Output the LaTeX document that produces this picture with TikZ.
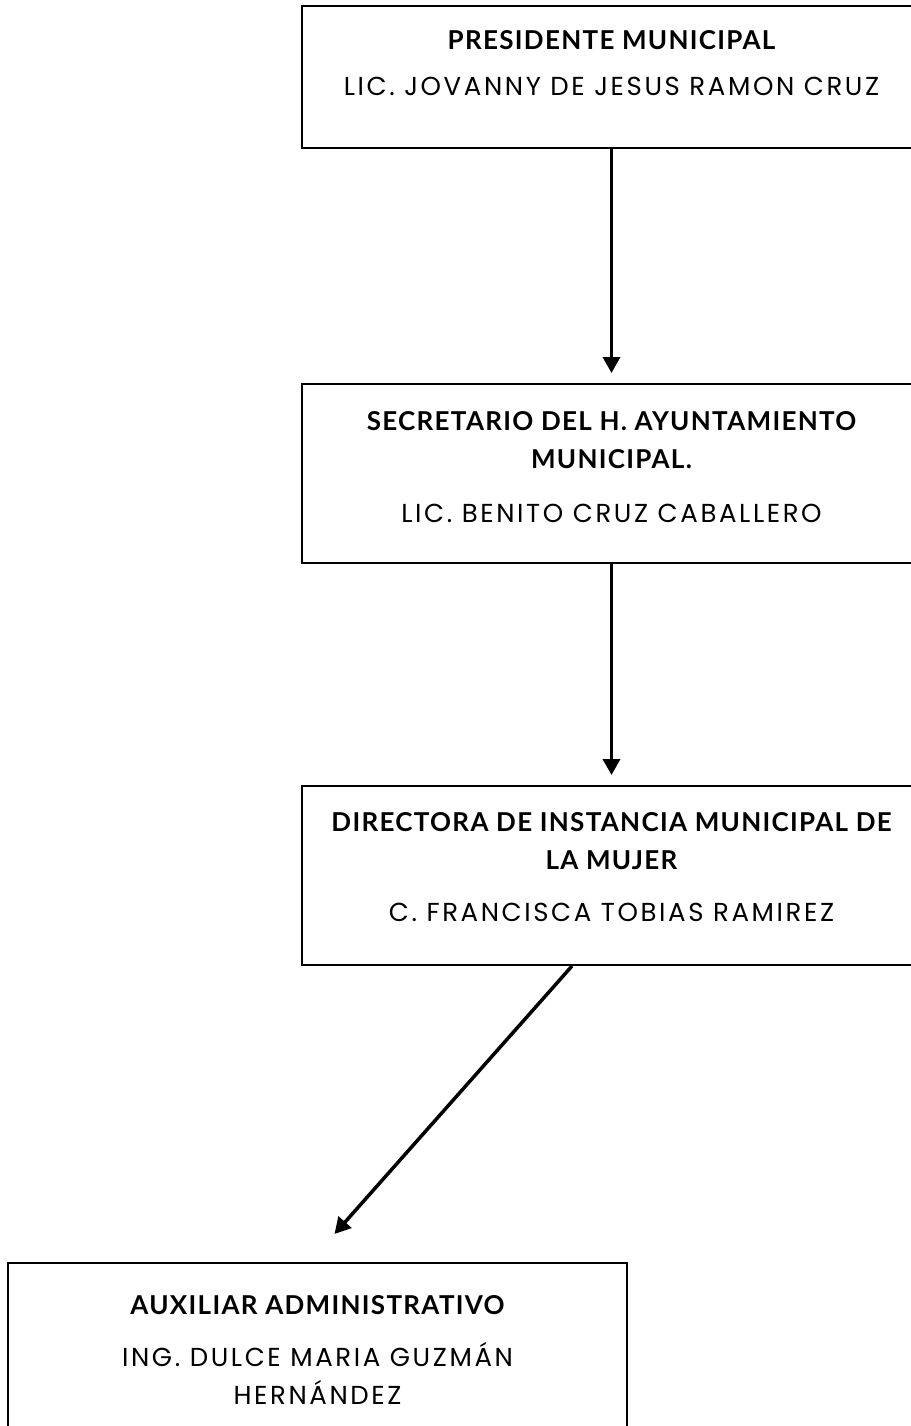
\documentclass[tikz,border=0pt]{standalone}
\usepackage{fontspec}
\usetikzlibrary{positioning}
\usetikzlibrary{arrows.meta}
\newfontfamily\titlefont{Lato}[LetterSpace=5]
\newfontfamily\namefont{Poppins}[LetterSpace=10]
\newcommand{\TIT}{\titlefont\bfseries\fontsize{13}{19}\selectfont}
\newcommand{\NOM}{\namefont\mdseries\fontsize{13}{19}\selectfont}

\begin{document}
\begin{tikzpicture}[x=0.5pt, y=-0.5pt,
    ORG/.style={rectangle, draw=black, line width=1pt, inner sep=0pt, anchor=north}]

    \useasboundingbox (0,0) rectangle (911,1426);
    \clip (0,0) rectangle (911,1426);

            \node[ORG] (B1) at (611.5,5)
                {\parbox[t][71pt][t]{309.5pt}{\centering\rule{0pt}{21.9pt}%
                 \TIT PRESIDENTE MUNICIPAL\\[3.6pt]
                 \NOM LIC. JOVANNY DE JESUS RAMON CRUZ}};

            \node[ORG, below=117pt of B1] (B2)
                {\parbox[t][89.5pt][t]{309.5pt}{\centering\rule{0pt}{23pt}%
                 \TIT SECRETARIO DEL H. AYUNTAMIENTO\\
                 MUNICIPAL.\\[8pt]
                 \NOM LIC. BENITO CRUZ CABALLERO}};

            \node[ORG, below=110.5pt of B2] (B3)
                {\parbox[t][89.5pt][t]{309.5pt}{\centering\rule{0pt}{22.6pt}%
                 \TIT DIRECTORA DE INSTANCIA MUNICIPAL DE\\
                 LA MUJER\\[7pt]
                 \NOM C. FRANCISCA TOBIAS RAMIREZ}};

            \node[ORG, below=148pt of B3, xshift=-147pt] (B4)
                {\parbox[t][100pt][t]{309.5pt}{\centering\rule{0pt}{25.5pt}%
                 \TIT AUXILIAR ADMINISTRATIVO\\[7pt]
                 \NOM ING. DULCE MARIA GUZMÁN\\
                 HERNÁNDEZ}};

            \draw[-{Triangle[length=8pt, width=8.5pt]}, black, line width=1.75pt] (B1.south) -- ([yshift=5pt]B2.north);
            \draw[-{Triangle[length=8pt, width=8.5pt]}, black, line width=1.75pt] (B2.south) -- ([yshift=5pt]B3.north);
            \draw[-{Triangle[length=8pt, width=8.5pt]}, black, line width=1.75pt] ([xshift=-19.75pt]B3.south) -- ([xshift=8.5pt, yshift=14pt]B4.north);
        \end{tikzpicture}
\end{document}
